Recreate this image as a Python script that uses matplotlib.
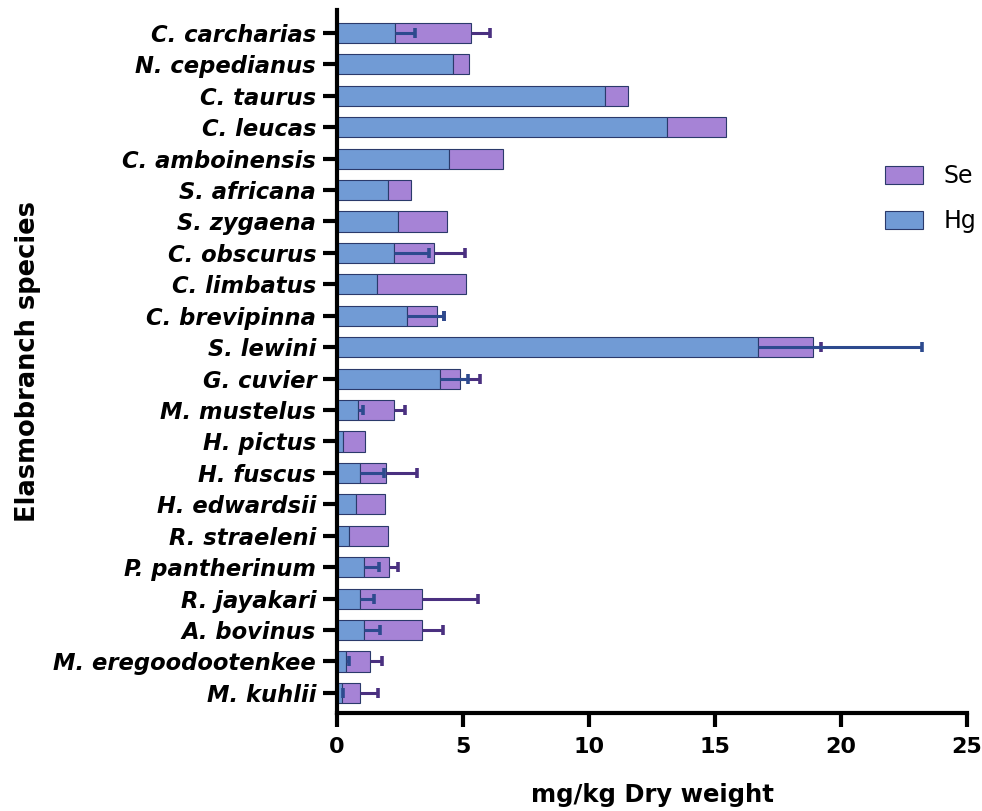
import numpy as np
import matplotlib
matplotlib.use('Agg')
import matplotlib.pyplot as plt

matplotlib.rcParams['font.family'] = 'DejaVu Sans'

# mean concentrations (mg/kg dry weight) per species, top to bottom
species = ['C. carcharias', 'N. cepedianus', 'C. taurus', 'C. leucas', 'C. amboinensis',
           'S. africana', 'S. zygaena', 'C. obscurus', 'C. limbatus', 'C. brevipinna',
           'S. lewini', 'G. cuvier', 'M. mustelus', 'H. pictus', 'H. fuscus',
           'H. edwardsii', 'R. straeleni', 'P. pantherinum', 'R. jayakari', 'A. bovinus',
           'M. eregoodootenkee', 'M. kuhlii']
hg = [2.31, 4.59, 10.63, 13.08, 4.46, 2.01, 2.43, 2.25, 1.59, 2.77, 16.71,
      4.07, 0.84, 0.24, 0.90, 0.77, 0.49, 1.06, 0.90, 1.06, 0.36, 0.18]
se = [2.99, 0.65, 0.93, 2.37, 2.12, 0.93, 1.92, 1.58, 3.51, 1.19, 2.17,
      0.81, 1.41, 0.89, 1.06, 1.12, 1.52, 1.02, 2.47, 2.31, 0.96, 0.72]
# standard deviations (0 = not reported)
hg_sd = [0.79, 0, 0, 0, 0, 0, 0, 1.41, 0, 1.49, 6.50,
         1.11, 0.18, 0, 0.95, 0, 0, 0.62, 0.56, 0.63, 0.11, 0.05]
se_sd = [0.79, 0, 0, 0, 0, 0, 0, 1.26, 0, 0.30, 0.34,
         0.79, 0.46, 0, 1.23, 0, 0, 0.34, 2.21, 0.83, 0.47, 0.73]

hg = np.array(hg)
se = np.array(se)
hg_sd = np.array(hg_sd)
se_sd = np.array(se_sd)
y = np.arange(len(species))

blue = '#719bd5'
purple = '#a683d6'
edge = '#2b3a6b'

fig = plt.figure(figsize=(9.82, 8.11), dpi=100)
ax = fig.add_axes([0.3432, 0.1208, 0.6415, 0.8669])

b_hg = ax.barh(y, hg, height=0.64, color=blue, edgecolor=edge, linewidth=0.8, zorder=2)
b_se = ax.barh(y, se, left=hg, height=0.64, color=purple, edgecolor=edge, linewidth=0.8, zorder=2)

def draw_err(x, err, color):
    # one-sided (upper) error bars, no cap at the bar end
    m = err > 0
    _, caps, _ = ax.errorbar(x[m], y[m], xerr=[np.zeros(m.sum()), err[m]], fmt='none',
                             ecolor=color, elinewidth=2.2, capsize=3.8, capthick=2.6, zorder=3)
    caps[0].set_visible(False)

draw_err(hg + se, se_sd, '#4a3080')
draw_err(hg, hg_sd, '#2d4a8e')

ax.set_xlim(0, 25)
ax.set_ylim(len(species) - 1 + 0.64, -0.73)
ax.set_xticks([0, 5, 10, 15, 20, 25])
ax.set_yticks(y)
ax.set_yticklabels(species, fontsize=16.3, fontweight='bold', fontstyle='italic')
for lab in ax.get_xticklabels():
    lab.set_fontsize(16)
    lab.set_fontweight('bold')

for s in ['top', 'right']:
    ax.spines[s].set_visible(False)
for s in ['left', 'bottom']:
    ax.spines[s].set_linewidth(3)
ax.tick_params(axis='both', width=3, length=10)
ax.tick_params(axis='y', pad=5)
ax.tick_params(axis='x', pad=7)

ax.set_xlabel('mg/kg Dry weight', fontsize=17.5, fontweight='bold')
ax.set_ylabel('Elasmobranch species', fontsize=18.5, fontweight='bold')
ax.xaxis.set_label_coords(0.5, -0.1)
ax.yaxis.set_label_coords(-0.47, 0.5)

fig.legend([b_se, b_hg], ['Se', 'Hg'], loc='center left', bbox_to_anchor=(0.901, 0.755),
           frameon=False, fontsize=17, borderpad=0, borderaxespad=0,
           handlelength=1.6, handleheight=0.76, handletextpad=0.9, labelspacing=0.9)

fig.savefig('out.png', dpi=100)
